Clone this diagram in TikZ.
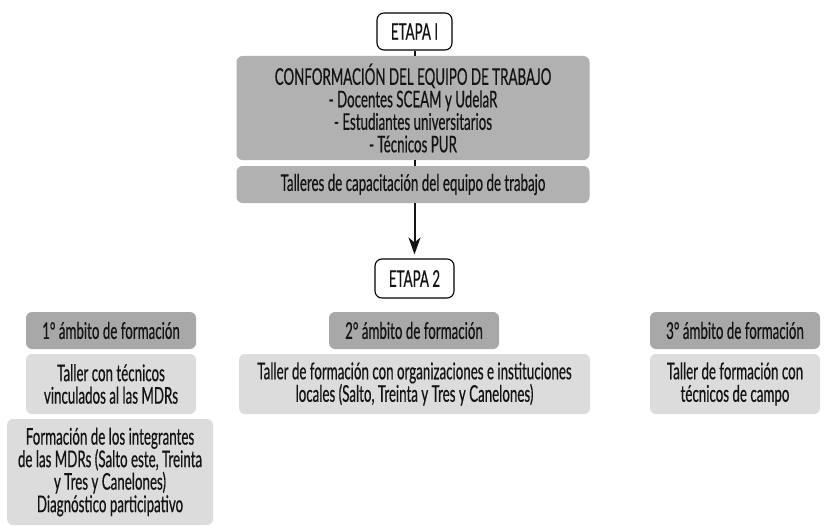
\documentclass[tikz,border=0pt]{standalone}
\usepackage{fontspec}
\setmainfont[FakeStretch=0.58,FakeBold=0.5]{Lato}
\usetikzlibrary{arrows.meta}
\definecolor{mgray}{HTML}{B1B1B1}
\definecolor{dgray}{HTML}{A8A8A8}
\definecolor{lgray}{HTML}{DCDCDC}
\definecolor{ink}{HTML}{141414}
\tikzset{
  base/.style={rounded corners=6pt, align=center, text=ink, inner sep=0pt,
    font=\fontsize{23}{22.5}\selectfont},
  etapa/.style={base, draw=black, line width=1.1pt, fill=white, rounded corners=7pt},
  mbox/.style={base, fill=mgray},
  dbox/.style={base, fill=dgray},
  lbox/.style={base, fill=lgray},
  link/.style={line width=2pt, draw=ink},
}
\begin{document}
\begin{tikzpicture}[x=1pt,y=-1pt]
\useasboundingbox (0,0) rectangle (824,527);
\node[etapa, minimum width=75pt, minimum height=37pt] (e1) at (414.5,31.5) {ETAPA I};
\node[mbox, minimum width=353pt, minimum height=104pt] (conf) at (413,108)
  {CONFORMACIÓN DEL EQUIPO DE TRABAJO\\- Docentes SCEAM y UdelaR\\- Estudiantes universitarios\\- Técnicos PUR};
\node[mbox, minimum width=353pt, minimum height=37pt] (tall) at (413,184.5)
  {Talleres de capacitación del equipo de trabajo};
\node[etapa, minimum width=79pt, minimum height=39pt] (e2) at (414.5,278.5) {ETAPA 2};
\node[dbox, minimum width=170pt, minimum height=37pt] (a1) at (111,330.5) {1° ámbito de formación};
\node[lbox, minimum width=170pt, minimum height=60pt] (t1) at (111,384)
  {Taller con técnicos\\vinculados al las MDRs};
\node[lbox, minimum width=206pt, minimum height=106pt] (f1) at (110,472)
  {Formación de los integrantes\\de las MDRs (Salto este, Treinta\\y Tres y Canelones)\\Diagnóstico participativo};
\node[dbox, minimum width=170pt, minimum height=37pt] (a2) at (414,330.5) {2° ámbito de formación};
\node[lbox, minimum width=351pt, minimum height=60pt] (t2) at (414.5,384)
  {Taller de formación con organizaciones e instituciones\\locales (Salto, Treinta y Tres y Canelones)};
\node[dbox, minimum width=170pt, minimum height=37pt] (a3) at (735,330.5) {3° ámbito de formación};
\node[lbox, minimum width=170pt, minimum height=60pt] (t3) at (735,384)
  {Taller de formación con\\técnicos de campo};
\draw[link] (e1.south -| 414.5,0) -- (conf.north -| 414.5,0);
\draw[link] (conf.south -| 414.5,0) -- (tall.north -| 414.5,0);
\draw[link, -{Stealth[length=17pt, width=12pt, inset=5pt]}, shorten >=4pt] (tall.south -| 414.5,0) -- (e2.north);
\end{tikzpicture}
\end{document}
